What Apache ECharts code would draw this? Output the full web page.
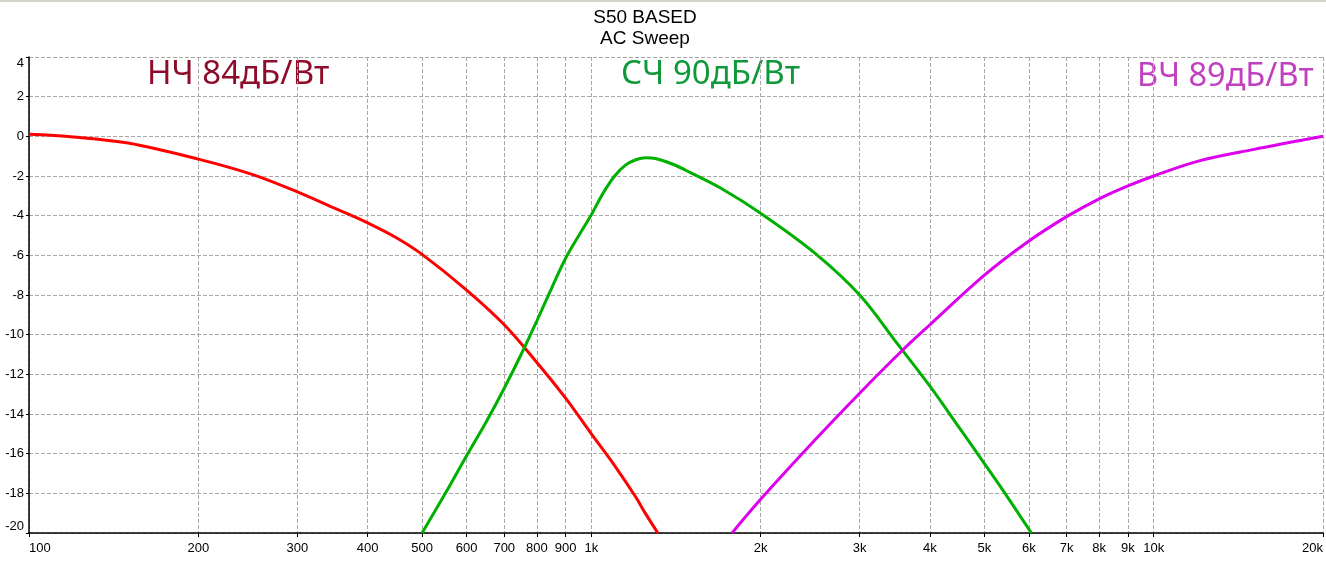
<!DOCTYPE html>
<html>
<head>
<meta charset="utf-8">
<script src="https://cdn.jsdelivr.net/npm/echarts@6/dist/echarts.min.js"></script>
<style>
html,body{margin:0;padding:0;background:#fff;}
#chart{width:1326px;height:562px;}
</style>
</head>
<body>
<div id="chart"></div>
<script>
// ---- data (frequency in Hz, level in dB) ----
var lfFreq = [100, 120, 150, 200, 250, 300, 350, 400, 450, 500, 600, 700, 800, 900, 1000, 1100, 1200, 1250, 1313];
var lfDb   = [0.1, -0.03, -0.34, -1.15, -1.93, -2.8, -3.63, -4.36, -5.11, -5.95, -7.75, -9.5, -11.4, -13.2, -15.0, -16.6, -18.2, -19.05, -20];

var mfFreq = [500, 550, 600, 650, 700, 750, 800, 850, 900, 950, 1000, 1050, 1100, 1150, 1200, 1250, 1300, 1400, 1500, 1700, 2000, 2500, 3000, 3500, 4000, 4500, 5000, 5500, 6060];
var mfDb   = [-20, -18.0, -16.1, -14.4, -12.7, -11.0, -9.3, -7.65, -6.15, -5.0, -3.95, -2.85, -2.0, -1.45, -1.18, -1.08, -1.12, -1.42, -1.83, -2.62, -3.88, -5.9, -8.0, -10.45, -12.6, -14.65, -16.5, -18.2, -20];

var hfFreq = [1779, 2000, 2500, 3000, 3571, 4000, 5000, 6000, 7000, 8000, 9000, 10000, 12000, 15000, 20000];
var hfDb   = [-20, -18.3, -15.3, -12.95, -10.8, -9.5, -7.0, -5.28, -4.05, -3.15, -2.5, -2.0, -1.25, -0.67, 0];

var xTickValues = [100, 200, 300, 400, 500, 600, 700, 800, 900, 1000, 2000, 3000, 4000, 5000, 6000, 7000, 8000, 9000, 10000, 20000];
var xTickLabels = ['100', '200', '300', '400', '500', '600', '700', '800', '900', '1k', '2k', '3k', '4k', '5k', '6k', '7k', '8k', '9k', '10k', '20k'];

var titleLines = ['S50 BASED', 'AC Sweep'];
var bandLabels = ['НЧ 84дБ/Вт', 'СЧ 90дБ/Вт', 'ВЧ 89дБ/Вт'];

function pairs(xs, ys) { return xs.map(function (x, i) { return [x, ys[i]]; }); }

var chart = echarts.init(document.getElementById('chart'), null, {renderer: 'canvas'});
var gridDash = {color: '#a8a8a8', width: 1, type: [4, 2]};
var curve = {type: 'line', smooth: 0.35, showSymbol: false, z: 3};
var option = {
  animation: false,
  backgroundColor: '#ffffff',
  title: {
    text: titleLines.join('\n'),
    left: 640, top: 2, textAlign: 'center',
    textStyle: {fontFamily: 'Liberation Sans', fontSize: 19, fontWeight: 'normal', color: '#000', lineHeight: 21}
  },
  grid: {left: 29, right: 2, top: 57, bottom: 29, containLabel: false},
  xAxis: {
    type: 'log', logBase: 10, min: 100, max: 20000,
    axisLine: {onZero: false, lineStyle: {color: '#000', width: 1.5}},
    axisTick: {show: true, length: 4, lineStyle: {color: '#000'}, customValues: xTickValues},
    axisLabel: {
      customValues: xTickValues,
      fontFamily: 'Liberation Sans', fontSize: 13, color: '#000', margin: 9,
      alignMinLabel: 'left', alignMaxLabel: 'right',
      formatter: function (v) { var i = xTickValues.indexOf(Math.round(v)); return i >= 0 ? xTickLabels[i] : ''; }
    },
    splitLine: {show: true, lineStyle: gridDash},
    minorTick: {show: false}
  },
  yAxis: {
    type: 'value', min: -20, max: 4, interval: 2,
    axisLine: {show: true, onZero: false, lineStyle: {color: '#000', width: 1.5}},
    axisTick: {show: true, length: 3, lineStyle: {color: '#000'}},
    axisLabel: {
      fontFamily: 'Liberation Sans', fontSize: 13, color: '#000', margin: 5,
      verticalAlignMaxLabel: 'top', verticalAlignMinLabel: 'bottom'
    },
    splitLine: {show: true, lineStyle: gridDash}
  },
  series: [
    Object.assign({}, curve, {data: pairs(lfFreq, lfDb), lineStyle: {color: '#ff0000', width: 3}}),
    Object.assign({}, curve, {data: pairs(mfFreq, mfDb), lineStyle: {color: '#00b000', width: 3}}),
    Object.assign({}, curve, {data: pairs(hfFreq, hfDb), lineStyle: {color: '#dd00ee', width: 3}})
  ],
  graphic: [
    {type: 'rect', left: 0, top: 0, shape: {width: 1326, height: 2}, style: {fill: '#d6d3cc'}},
    {type: 'text', left: 147, top: 58, style: {text: bandLabels[0], font: '33px "Noto Sans"', fill: '#8e0c2a'}},
    {type: 'text', left: 621, top: 58, style: {text: bandLabels[1], font: '33px "Noto Sans"', fill: '#10993a'}},
    {type: 'text', left: 1137, top: 60, style: {text: bandLabels[2], font: '32.5px "Noto Sans"', fill: '#c040c0'}}
  ]
};
chart.setOption(option);
</script>
</body>
</html>
